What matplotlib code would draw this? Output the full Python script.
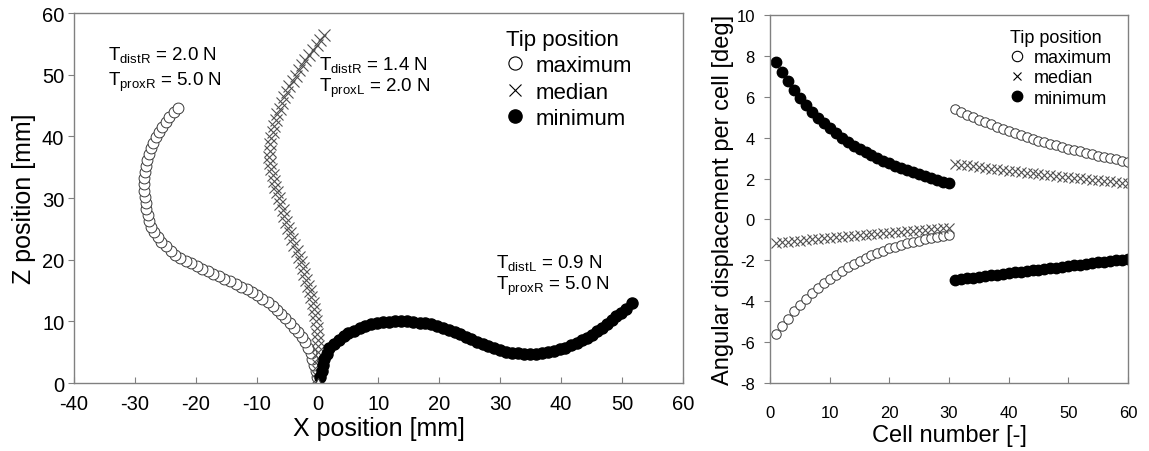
import matplotlib.pyplot as plt
from matplotlib.lines import Line2D

plt.rcParams['font.family'] = ['Liberation Sans', 'DejaVu Sans']
plt.rcParams['mathtext.fontset'] = 'custom'
plt.rcParams['mathtext.rm'] = 'Liberation Sans'
plt.rcParams['mathtext.it'] = 'Liberation Sans:italic'
plt.rcParams['axes.unicode_minus'] = False

# --- tip trajectories (left panel), mm ---
max_x = [-0.05, -0.3, -0.55, -0.85, -1.1, -1.55, -2.0, -2.6, -3.25, -3.9,
         -4.55, -5.3, -6.0, -6.7, -7.4, -8.2, -9.05, -9.9, -10.75, -11.65,
         -12.55, -13.45, -14.4, -15.3, -16.25, -17.15, -18.05, -18.95, -19.85, -20.75,
         -21.65, -22.55, -23.4, -24.15, -24.9, -25.65, -26.25, -26.85, -27.35, -27.65,
         -27.9, -28.15, -28.25, -28.35, -28.45, -28.5, -28.45, -28.4, -28.2, -28.0,
         -27.7, -27.35, -27.0, -26.55, -26.05, -25.55, -24.95, -24.35, -23.65, -22.9]
max_z = [1.0, 2.0, 2.95, 3.9, 4.85, 5.75, 6.6, 7.45, 8.25, 9.0,
         9.75, 10.5, 11.2, 11.9, 12.55, 13.1, 13.65, 14.2, 14.8, 15.2,
         15.65, 16.1, 16.5, 16.9, 17.3, 17.7, 18.1, 18.55, 19.0, 19.4,
         19.85, 20.3, 20.8, 21.45, 22.15, 22.85, 23.65, 24.45, 25.3, 26.25,
         27.2, 28.2, 29.2, 30.2, 31.2, 32.2, 33.2, 34.2, 35.15, 36.15,
         37.1, 38.05, 38.95, 39.85, 40.7, 41.55, 42.3, 43.1, 43.9, 44.6]

med_x = [0.05, 0.1, 0.1, 0.1, 0.1, 0.08, 0.05, -0.02, -0.15, -0.27,
         -0.4, -0.55, -0.8, -1.05, -1.3, -1.55, -1.85, -2.15, -2.45, -2.75,
         -3.1, -3.45, -3.8, -4.15, -4.5, -4.85, -5.15, -5.45, -5.75, -6.1,
         -6.35, -6.65, -6.95, -7.2, -7.4, -7.6, -7.75, -7.9, -7.85, -7.75,
         -7.6, -7.35, -7.1, -6.85, -6.6, -6.25, -5.85, -5.45, -5.05, -4.65,
         -4.1, -3.6, -3.05, -2.5, -2.0, -1.35, -0.75, -0.15, 0.45, 1.05]
med_z = [1.0, 2.0, 3.0, 4.0, 5.0, 6.0, 7.0, 8.0, 9.0, 10.0,
         11.0, 11.95, 12.9, 13.9, 14.85, 15.8, 16.75, 17.7, 18.65, 19.6,
         20.5, 21.45, 22.4, 23.3, 24.25, 25.2, 26.15, 27.1, 28.05, 29.0,
         29.95, 30.9, 31.85, 32.8, 33.75, 34.7, 35.7, 36.7, 37.7, 38.7,
         39.7, 40.7, 41.65, 42.6, 43.6, 44.5, 45.4, 46.35, 47.25, 48.15,
         49.0, 49.85, 50.7, 51.55, 52.4, 53.2, 54.0, 54.8, 55.6, 56.45]

min_x = [0.45, 0.7, 0.85, 1.1, 1.55, 1.95, 2.7, 3.5, 4.3, 5.05,
         5.95, 6.9, 7.8, 8.75, 9.75, 10.75, 11.75, 12.75, 13.75, 14.75,
         15.75, 16.75, 17.7, 18.7, 19.65, 20.6, 21.55, 22.5, 23.4, 24.35,
         25.25, 26.15, 27.1, 28.05, 29.0, 29.95, 30.9, 31.85, 32.85, 33.85,
         34.85, 35.85, 36.85, 37.8, 38.8, 39.8, 40.7, 41.6, 42.55, 43.45,
         44.3, 45.1, 45.95, 46.75, 47.55, 48.3, 49.05, 49.8, 50.6, 51.6]
min_z = [0.9, 1.9, 2.9, 3.85, 4.75, 5.7, 6.3, 6.95, 7.6, 8.05,
         8.45, 8.9, 9.3, 9.65, 9.75, 9.85, 9.95, 10.05, 10.1, 10.0,
         9.9, 9.8, 9.7, 9.5, 9.2, 8.9, 8.6, 8.3, 7.9, 7.5,
         7.1, 6.7, 6.3, 6.0, 5.7, 5.4, 5.1, 4.85, 4.8, 4.75,
         4.72, 4.7, 4.85, 5.05, 5.25, 5.45, 5.7, 6.1, 6.5, 6.9,
         7.3, 7.85, 8.45, 9.0, 9.55, 10.15, 10.8, 11.4, 12.05, 12.95]

# --- angular displacement per cell (right panel), deg ---
cells = list(range(1, 61))
ang_max = [-5.6, -5.2, -4.85, -4.5, -4.2, -3.9, -3.6, -3.35, -3.1, -2.9,
           -2.7, -2.5, -2.33, -2.17, -2.02, -1.88, -1.75, -1.63, -1.52, -1.42,
           -1.33, -1.25, -1.17, -1.1, -1.03, -0.97, -0.91, -0.85, -0.8, -0.75,
           5.4, 5.26, 5.13, 5.0, 4.88, 4.76, 4.65, 4.54, 4.43, 4.33,
           4.23, 4.13, 4.04, 3.95, 3.86, 3.78, 3.7, 3.62, 3.54, 3.47,
           3.4, 3.33, 3.26, 3.19, 3.12, 3.06, 3.0, 2.94, 2.88, 2.82]
ang_med = [-1.15, -1.12, -1.09, -1.06, -1.03, -1.0, -0.98, -0.95, -0.92, -0.9,
           -0.87, -0.85, -0.82, -0.8, -0.77, -0.75, -0.72, -0.7, -0.68, -0.65,
           -0.63, -0.61, -0.58, -0.56, -0.54, -0.51, -0.49, -0.47, -0.44, -0.42,
           2.72, 2.68, 2.64, 2.6, 2.56, 2.52, 2.49, 2.45, 2.42, 2.38,
           2.35, 2.31, 2.28, 2.25, 2.22, 2.19, 2.16, 2.13, 2.1, 2.07,
           2.04, 2.01, 1.98, 1.95, 1.92, 1.89, 1.86, 1.83, 1.8, 1.77]
ang_min = [7.7, 7.2, 6.75, 6.35, 5.95, 5.6, 5.28, 4.98, 4.7, 4.45,
           4.22, 4.0, 3.8, 3.61, 3.44, 3.28, 3.13, 2.99, 2.86, 2.74,
           2.62, 2.51, 2.41, 2.31, 2.21, 2.12, 2.03, 1.94, 1.85, 1.76,
           -2.95, -2.91, -2.87, -2.84, -2.8, -2.77, -2.73, -2.7, -2.66, -2.63,
           -2.59, -2.56, -2.52, -2.49, -2.45, -2.42, -2.38, -2.35, -2.31, -2.28,
           -2.24, -2.21, -2.17, -2.14, -2.1, -2.07, -2.03, -2.0, -1.96, -1.93]

labels = ['maximum', 'median', 'minimum']

spine_c = '#808080'
circ_c = '#3a3a3a'
cross_c = '#505050'


def style_axes(ax, tick_size, xpad, ypad):
    for s in ax.spines.values():
        s.set_color(spine_c)
        s.set_linewidth(1.0)
    ax.tick_params(axis='x', direction='in', length=4, color=spine_c,
                   labelsize=tick_size, pad=xpad)
    ax.tick_params(axis='y', direction='out', length=4, color=spine_c,
                   labelsize=tick_size, pad=ypad)


def legend_handles(ms):
    return [Line2D([], [], ls='none', marker='o', mfc='white', mec='black', mew=0.8, ms=ms),
            Line2D([], [], ls='none', marker='x', color='black', mew=0.8, ms=ms * 0.85),
            Line2D([], [], ls='none', marker='o', mfc='black', mec='black', ms=ms)]


fig = plt.figure(figsize=(11.49, 4.52), dpi=100)

# Left panel: tip positions
ax1 = fig.add_axes([0.0644, 0.1504, 0.5300, 0.8186])
ax1.plot(max_x, max_z, ls='none', marker='o', mfc='white', mec=circ_c, mew=0.7, ms=7.8)
ax1.plot(med_x, med_z, ls='none', marker='x', color=cross_c, mew=0.8, ms=8.5)
ax1.plot(min_x, min_z, ls='none', marker='o', mfc='black', mec='black', ms=8.0)
ax1.plot([0], [0.3], ls='none', marker='^', mfc='white', mec=circ_c, mew=0.7, ms=5)

ax1.set_xlim(-40, 60)
ax1.set_ylim(0, 60)
ax1.set_xticks(range(-40, 61, 10))
ax1.set_yticks(range(0, 61, 10))
style_axes(ax1, 14.5, 8, 3)
ax1.set_xlabel('X position [mm]', fontsize=18, labelpad=2)
ax1.set_ylabel('Z position [mm]', fontsize=18, labelpad=4)

fs = 13.5
ax1.text(-34.4, 52.6, r'T$_\mathregular{distR}$ = 2.0 N', fontsize=fs)
ax1.text(-34.4, 48.3, r'T$_\mathregular{proxR}$ = 5.0 N', fontsize=fs)
ax1.text(0.3, 51.0, r'T$_\mathregular{distR}$ = 1.4 N', fontsize=fs)
ax1.text(0.3, 47.4, r'T$_\mathregular{proxL}$ = 2.0 N', fontsize=fs)
ax1.text(29.3, 18.8, r'T$_\mathregular{distL}$ = 0.9 N', fontsize=fs)
ax1.text(29.3, 15.3, r'T$_\mathregular{proxR}$ = 5.0 N', fontsize=fs)

ax1.legend(legend_handles(9.5), labels, title='Tip position', loc='upper left',
           bbox_to_anchor=(0.71, 0.958), frameon=False, fontsize=16, title_fontsize=16,
           alignment='left', handlelength=0.8, handletextpad=0.5, labelspacing=0.25,
           borderpad=0, borderaxespad=0)

# Right panel: angular displacement per cell
ax2 = fig.add_axes([0.6702, 0.1504, 0.3115, 0.8142])
ax2.plot(cells, ang_max, ls='none', marker='o', mfc='white', mec=circ_c, mew=0.7, ms=6.8)
ax2.plot(cells, ang_med, ls='none', marker='x', color=cross_c, mew=0.8, ms=7.2)
ax2.plot(cells, ang_min, ls='none', marker='o', mfc='black', mec='black', ms=7.5)

ax2.set_xlim(0, 60)
ax2.set_ylim(-8, 10)
ax2.set_xticks(range(0, 61, 10))
ax2.set_yticks(range(-8, 11, 2))
style_axes(ax2, 12, 16, 7)
ax2.set_xlabel('Cell number [-]', fontsize=17, labelpad=3)
ax2.set_ylabel('Angular displacement per cell [deg]', fontsize=17, labelpad=2)

ax2.legend(legend_handles(7.5), labels, title='Tip position', loc='upper left',
           bbox_to_anchor=(0.67, 0.962), frameon=False, fontsize=13, title_fontsize=13,
           alignment='left', handlelength=0.8, handletextpad=0.5, labelspacing=0.18,
           borderpad=0, borderaxespad=0)

fig.savefig('out.png', dpi=100)
